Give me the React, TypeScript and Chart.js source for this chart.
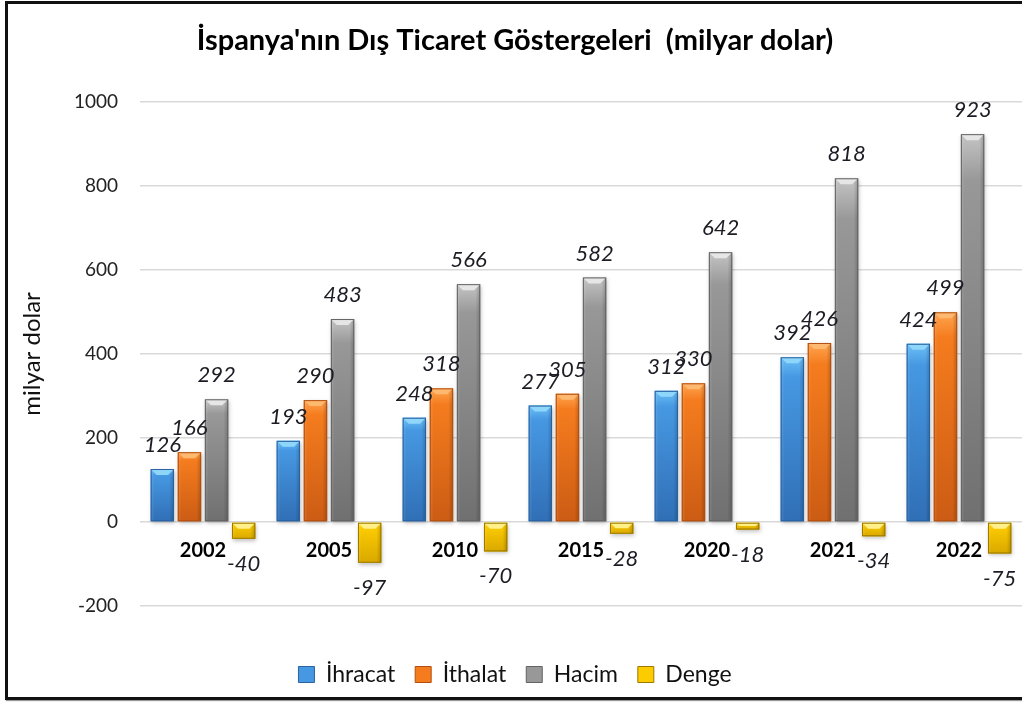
import React, { useEffect, useRef } from "react";
import { Chart, registerables } from "chart.js";

Chart.register(...registerables);

const categories = ["2002", "2005", "2010", "2015", "2020", "2021", "2022"];
const ihracat = [126, 193, 248, 277, 312, 392, 424];
const ithalat = [166, 290, 318, 305, 330, 426, 499];
const hacim = [292, 483, 566, 582, 642, 818, 923];
const denge = [-40, -97, -70, -28, -18, -34, -75];
const seriesNames = ["İhracat", "İthalat", "Hacim", "Denge"];
const yMin = -200;
const yMax = 1000;
const yStep = 200;
const chartTitle = "İspanya'nın Dış Ticaret Göstergeleri  (milyar dolar)";
const yAxisTitle = "milyar dolar";

const FONT = "Lato, 'Open Sans', sans-serif";

const palette = [
  { light: "#6cc0f6", mid: "#4698e2", dark: "#306fb6", cap: "#8fd6fb", edge: "#2a62a0" },
  { light: "#ffa550", mid: "#f57c1e", dark: "#cc5c14", cap: "#ffb870", edge: "#b24f10" },
  { light: "#c4c4c4", mid: "#989898", dark: "#707070", cap: "#e6e6e6", edge: "#636363" },
  { light: "#ffe860", mid: "#fccb00", dark: "#d9a800", cap: "#fff08a", edge: "#9c7a00" },
];

const barStylePlugin = {
  id: "barStyle",
  afterDatasetsDraw(chart: any) {
    const ctx: CanvasRenderingContext2D = chart.ctx;
    chart.data.datasets.forEach((_ds: any, di: number) => {
      const meta = chart.getDatasetMeta(di);
      if (meta.hidden) return;
      const p = palette[di];
      meta.data.forEach((el: any) => {
        const { x, y, base, width } = el.getProps(["x", "y", "base", "width"], true);
        const l = x - width / 2;
        const r = x + width / 2;
        const top = Math.min(y, base);
        const bot = Math.max(y, base);
        const h = bot - top;
        if (h <= 0) return;
        ctx.save();
        ctx.shadowColor = "rgba(0,0,0,0.25)";
        ctx.shadowBlur = 4;
        ctx.shadowOffsetX = 1;
        ctx.shadowOffsetY = 2;
        const g = ctx.createLinearGradient(0, top, 0, bot);
        g.addColorStop(0, p.light);
        g.addColorStop(0.12, p.mid);
        g.addColorStop(1, p.dark);
        ctx.fillStyle = g;
        ctx.fillRect(l, top, width, h);
        ctx.shadowColor = "transparent";
        const gh = ctx.createLinearGradient(l, 0, r, 0);
        gh.addColorStop(0, "rgba(255,255,255,0.15)");
        gh.addColorStop(0.15, "rgba(255,255,255,0)");
        gh.addColorStop(0.8, "rgba(0,0,0,0)");
        gh.addColorStop(1, "rgba(0,0,0,0.2)");
        ctx.fillStyle = gh;
        ctx.fillRect(l, top, width, h);
        const cap = Math.min(6, h / 2);
        ctx.beginPath();
        ctx.moveTo(l, top);
        ctx.lineTo(r, top);
        ctx.lineTo(r - cap, top + cap);
        ctx.lineTo(l + cap, top + cap);
        ctx.closePath();
        ctx.fillStyle = p.cap;
        ctx.fill();
        ctx.strokeStyle = p.edge;
        ctx.lineWidth = 1;
        ctx.strokeRect(l + 0.5, top + 0.5, width - 1, h - 1);
        ctx.restore();
      });
    });

    // value labels
    ctx.save();
    ctx.font = `italic 22px ${FONT}`;
    ctx.fillStyle = "#1c1c24";
    ctx.textAlign = "center";
    ctx.textBaseline = "middle";
    chart.data.datasets.forEach((ds: any, di: number) => {
      const meta = chart.getDatasetMeta(di);
      if (meta.hidden) return;
      meta.data.forEach((el: any, i: number) => {
        const v = ds.data[i];
        const { x, y } = el.getProps(["x", "y"], true);
        const ly = v >= 0 ? y - 24 : y + 25;
        ctx.fillText(String(v), x, ly);
      });
    });
    ctx.restore();
  },
};

export default function App() {
  const canvasRef = useRef<HTMLCanvasElement | null>(null);

  useEffect(() => {
    const canvas = canvasRef.current;
    if (!canvas) return;
    const seriesData = [ihracat, ithalat, hacim, denge];
    const chart = new Chart(canvas, {
      type: "bar",
      data: {
        labels: categories,
        datasets: seriesNames.map((name, i) => ({
          label: name,
          data: seriesData[i],
          backgroundColor: palette[i].mid,
          borderWidth: 0,
          categoryPercentage: 0.86,
          barPercentage: 0.86,
        })),
      },
      options: {
        responsive: false,
        animation: false,
        devicePixelRatio: 1,
        layout: { padding: { left: 8, right: 0, top: 0, bottom: 6 } },
        plugins: {
          title: {
            display: true,
            text: chartTitle,
            color: "#000",
            font: { family: FONT, size: 29, weight: "bold" },
            padding: { top: 23, bottom: 44 },
          },
          legend: {
            position: "bottom",
            title: {
              display: true,
              text: "",
              font: { family: FONT, size: 10, lineHeight: 1 },
              padding: { top: 27, bottom: 0 },
            },
            labels: {
              boxWidth: 16,
              boxHeight: 16,
              padding: 20,
              color: "#111",
              font: { family: FONT, size: 23 },
              generateLabels: () =>
                seriesNames.map((n, i) => ({
                  text: n,
                  fillStyle: palette[i].mid,
                  strokeStyle: palette[i].edge,
                  lineWidth: 1,
                  hidden: false,
                  datasetIndex: i,
                  fontColor: "#111",
                })),
            },
          },
          tooltip: { enabled: false },
        },
        scales: {
          x: {
            position: { y: 0 } as any,
            grid: { display: false, drawTicks: false },
            border: { display: false },
            ticks: {
              color: "#000",
              font: { family: FONT, size: 20, weight: "bold" },
              padding: 17,
              maxRotation: 0,
            },
          },
          y: {
            min: yMin,
            max: yMax,
            grid: { color: "#d9d9d9", lineWidth: 1.5, drawTicks: false },
            border: { display: false },
            ticks: {
              stepSize: yStep,
              color: "#222",
              font: { family: FONT, size: 19 },
              padding: 22,
              callback: (v: any) => String(v),
            },
            title: {
              display: true,
              text: yAxisTitle,
              color: "#111",
              font: { family: FONT, size: 24 },
              padding: { top: 10, bottom: 0 },
            },
            afterFit: (s: any) => {
              s.width = 132;
            },
          },
        },
      },
      plugins: [barStylePlugin],
    });
    return () => chart.destroy();
  }, []);

  return (
    <div style={{ position: "fixed", left: 0, top: 0, width: 1022, height: 702, background: "#fff", overflow: "hidden" }}>
      <canvas ref={canvasRef} width={1022} height={702} style={{ position: "absolute", left: 0, top: 0, display: "block" }} />
      <div
        style={{
          position: "absolute",
          left: 5,
          top: 1,
          width: 1100,
          height: 693,
          borderLeft: "3px solid #111",
          borderTop: "3px solid #111",
          borderBottom: "3px solid #111",
          boxShadow: "1px 1px 1px #999",
          pointerEvents: "none",
        }}
      />
    </div>
  );
}
